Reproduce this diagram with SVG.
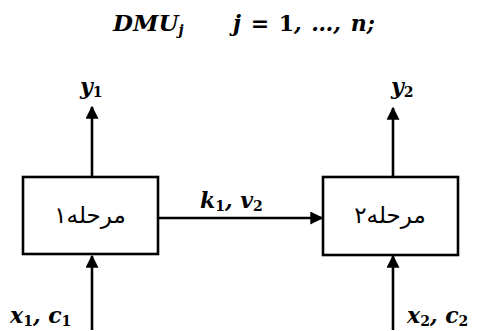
<svg xmlns="http://www.w3.org/2000/svg" width="478" height="331" viewBox="0 0 478 331">
<defs>
<style>
.m{font-family:"DejaVu Serif","Liberation Serif",serif;font-weight:bold;font-style:italic;font-size:22px;fill:#000}
.t{font-size:23px}
.n{font-style:normal}
.s{font-size:14px}
.box{fill:#fff;stroke:#000;stroke-width:2.6}
.fa{font-family:"DejaVu Sans","Noto Sans",sans-serif;font-size:23px;fill:#000}
.c{stroke:#000;stroke-width:2.6;fill:none;marker-end:url(#ah)}
</style>
<marker id="ah" viewBox="0 0 10 10" refX="9" refY="5" markerWidth="5" markerHeight="5" markerUnits="strokeWidth" orient="auto">
<path d="M0,0 L10,5 L0,10 Z" fill="#000"/>
</marker>
</defs>
<g id="title">
<text class="m t" x="113" y="31">DMU<tspan class="s" dy="4">j</tspan></text>
<text class="m" x="233" y="31" word-spacing="2">j <tspan class="n">= 1</tspan>, …, n;</text>
</g>
<g id="connectors">
<line class="c" x1="92" y1="177" x2="92" y2="107"/>
<line class="c" x1="92" y1="330" x2="92" y2="256"/>
<line class="c" x1="158" y1="218" x2="322" y2="218"/>
<line class="c" x1="393" y1="177" x2="393" y2="108"/>
<line class="c" x1="393" y1="330" x2="393" y2="256"/>
</g>
<g id="stage1">
<rect class="box" x="23" y="177" width="135" height="77"/>
<text class="fa" x="90" y="223" text-anchor="middle" direction="rtl">مرحله۱</text>
</g>
<g id="stage2">
<rect class="box" x="323" y="177" width="135" height="78"/>
<text class="fa" x="390" y="223" text-anchor="middle" direction="rtl">مرحله۲</text>
</g>
<g id="labels">
<text class="m" x="80" y="94">y<tspan class="s n" dy="3">1</tspan></text>
<text class="m" x="391" y="94">y<tspan class="s n" dy="3">2</tspan></text>
<text class="m" x="200" y="208">k<tspan class="s n" dy="3">1</tspan><tspan dy="-3">, v</tspan><tspan class="s n" dy="3">2</tspan></text>
<text class="m" x="10" y="323">x<tspan class="s n" dy="3">1</tspan><tspan dy="-3">, c</tspan><tspan class="s n" dy="3">1</tspan></text>
<text class="m" x="407" y="323">x<tspan class="s n" dy="3">2</tspan><tspan dy="-3">, c</tspan><tspan class="s n" dy="3">2</tspan></text>
</g>
</svg>
